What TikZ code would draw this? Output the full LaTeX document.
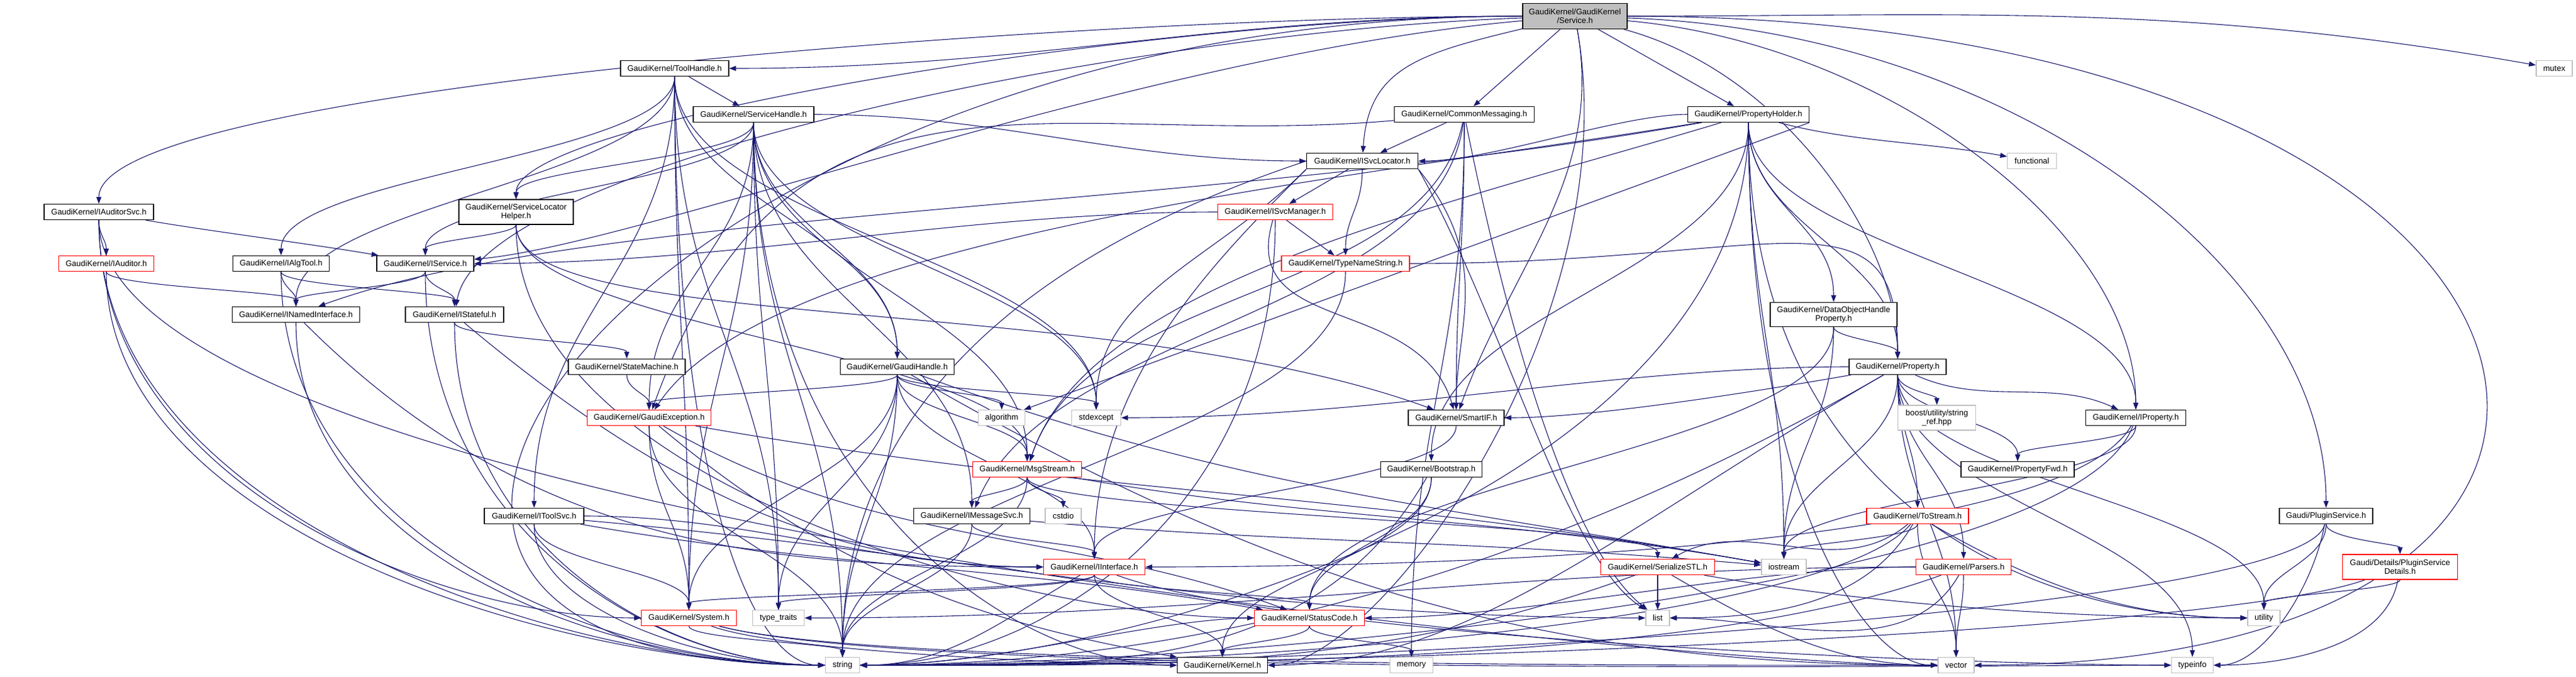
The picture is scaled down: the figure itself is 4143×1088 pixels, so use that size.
\documentclass[tikz,border=0pt]{standalone}
\usepackage{fontspec}
\setmainfont{Liberation Sans}
\usetikzlibrary{arrows.meta,calc}
\definecolor{edgec}{HTML}{191970}
\definecolor{extg}{HTML}{BFBFBF}
\definecolor{redc}{HTML}{FF0000}
\pgfdeclarelayer{edges}
\pgfsetlayers{edges,main}
\newcommand\edn[2]{\draw[conn] let \p1=(#1), \p2=(#2), \n1={0.45*abs(\y2-(\y1))} in (#1) .. controls +(0pt,{-\n1*1pt}) and +(0pt,{\n1*1pt}) .. (#2);}
\newcommand\eel[4]{\draw[conn] (#1) .. controls +(0,#3) and +(-#4,0) .. (#2);}
\newcommand\eer[4]{\draw[conn] (#1) .. controls +(0,#3) and +(#4,0) .. (#2);}
\newcommand\ecc[4]{\draw[conn] (#1) .. controls +(#3) and +(#4) .. (#2);}
\newcommand\est[2]{\draw[conn] (#1) -- (#2);}
\begin{document}
\begin{tikzpicture}[x=1pt,y=-1pt,font=\fontsize{13pt}{14pt}\selectfont,
 box/.style={draw=black,line width=1.3pt,rectangle,inner sep=0pt,minimum height=25pt,fill=white,align=center},
 ext/.style={box,draw=extg},
 redbox/.style={box,draw=redc},
 conn/.style={draw=edgec,line width=1.1pt,-{Triangle[length=11pt,width=8pt]}}]
\useasboundingbox (0,0) rectangle (4143,1088);
% ---------------- nodes
\node[box,fill=extg,minimum width=168pt,minimum height=41pt] (service) at (2533,26) {GaudiKernel/GaudiKernel\\/Service.h};
\node[box,minimum width=174pt] (toolh) at (1085,110) {GaudiKernel/ToolHandle.h};
\node[ext,minimum width=58pt] (mutex) at (4108,110) {mutex};
\node[box,minimum width=194pt] (svch) at (1212,184) {GaudiKernel/ServiceHandle.h};
\node[box,minimum width=225pt] (cmsg) at (2355,184) {GaudiKernel/CommonMessaging.h};
\node[box,minimum width=195pt] (pholder) at (2812,184) {GaudiKernel/PropertyHolder.h};
\node[box,minimum width=179pt] (isvcloc) at (2191,259) {GaudiKernel/ISvcLocator.h};
\node[ext,minimum width=79pt] (functional) at (3268,259) {functional};
\node[box,minimum width=176pt] (iaudsvc) at (159,341) {GaudiKernel/IAuditorSvc.h};
\node[box,minimum width=184pt,minimum height=40pt] (slh) at (830,341) {GaudiKernel/ServiceLocator\\Helper.h};
\node[redbox,minimum width=185pt] (isvcmgr) at (2051,341) {GaudiKernel/ISvcManager.h};
\node[redbox,minimum width=153pt] (iaud) at (171,424) {GaudiKernel/IAuditor.h};
\node[box,minimum width=155pt] (ialgtool) at (452,424) {GaudiKernel/IAlgTool.h};
\node[box,minimum width=156pt] (iservice) at (684,424) {GaudiKernel/IService.h};
\node[redbox,minimum width=206pt] (tns) at (2164,424) {GaudiKernel/TypeNameString.h};
\node[box,minimum width=205pt] (inamed) at (476,506) {GaudiKernel/INamedInterface.h};
\node[box,minimum width=158pt] (istate) at (731,506) {GaudiKernel/IStateful.h};
\node[box,minimum width=204pt,minimum height=39pt] (dohp) at (2949,506) {GaudiKernel/DataObjectHandle\\Property.h};
\node[box,minimum width=188pt] (smach) at (1008,590) {GaudiKernel/StateMachine.h};
\node[box,minimum width=183pt] (ghandle) at (1443,590) {GaudiKernel/GaudiHandle.h};
\node[box,minimum width=156pt] (prop) at (3052,590) {GaudiKernel/Property.h};
\node[redbox,minimum width=199pt] (gexc) at (1044,672) {GaudiKernel/GaudiException.h};
\node[ext,minimum width=75pt] (algo) at (1611,672) {algorithm};
\node[ext,minimum width=79pt] (stdexc) at (1763,672) {stdexcept};
\node[box,minimum width=154pt] (smartif) at (2342,672) {GaudiKernel/SmartIF.h};
\node[ext,minimum width=125pt,minimum height=40pt] (boost) at (3115,672) {boost/utility/string\\\_ref.hpp};
\node[box,minimum width=161pt] (iprop) at (3435,672) {GaudiKernel/IProperty.h};
\node[redbox,minimum width=175pt] (msgs) at (1652,755) {GaudiKernel/MsgStream.h};
\node[box,minimum width=163pt] (boot) at (2302,755) {GaudiKernel/Bootstrap.h};
\node[box,minimum width=182pt] (pfwd) at (3245,755) {GaudiKernel/PropertyFwd.h};
\node[box,minimum width=160pt] (itoolsvc) at (859,830) {GaudiKernel/IToolSvc.h};
\node[box,minimum width=187pt] (imsgsvc) at (1563,830) {GaudiKernel/IMessageSvc.h};
\node[ext,minimum width=58pt] (cstdio) at (1710,830) {cstdio};
\node[redbox,minimum width=164pt] (tostream) at (3084,830) {GaudiKernel/ToStream.h};
\node[box,minimum width=150pt] (plugin) at (3741,830) {Gaudi/PluginService.h};
\node[redbox,minimum width=163pt] (iintf) at (1760,912) {GaudiKernel/IInterface.h};
\node[redbox,minimum width=183pt] (sstl) at (2666,912) {GaudiKernel/SerializeSTL.h};
\node[ext,minimum width=72pt] (iostream) at (2869,912) {iostream};
\node[redbox,minimum width=153pt] (parsers) at (3158,912) {GaudiKernel/Parsers.h};
\node[redbox,minimum width=185pt,minimum height=40pt] (psd) at (3860,912) {Gaudi/Details/PluginService\\Details.h};
\node[redbox,minimum width=153pt] (system) at (1108,994) {GaudiKernel/System.h};
\node[ext,minimum width=83pt] (ttraits) at (1252,994) {type\_traits};
\node[redbox,minimum width=177pt] (scode) at (2106,994) {GaudiKernel/StatusCode.h};
\node[ext,minimum width=38pt] (list) at (2666,994) {list};
\node[ext,minimum width=52pt] (utility) at (3641,994) {utility};
\node[ext,minimum width=55pt] (string) at (1355,1070) {string};
\node[box,minimum width=145pt] (kernel) at (1966,1070) {GaudiKernel/Kernel.h};
\node[ext,minimum width=69pt] (memory) at (2270,1070) {memory};
\node[ext,minimum width=58pt] (vector) at (3146,1070) {vector};
\node[ext,minimum width=67pt] (typeinfo) at (3526,1070) {typeinfo};
% ---------------- edges
\begin{pgfonlayer}{edges}
\fill[white] (0,0) rectangle (4143,1088);
% Service
\ecc{service}{toolh}{-570,0}{570,0}
\ecc{service}{iaudsvc}{-800,0}{0,-200}
\ecc{service}{slh}{-650,0}{0,-150}
\ecc{service}{iservice}{-697,61}{349,-31}
\ecc{service}{istate}{-700,24}{43,-246}
\est{service}{cmsg}
\ecc{service}{isvcloc}{-250,60}{10,-150}
\est{service}{pholder}
\ecc{service}{smartif}{46,261}{91,-249}
\ecc{service}{prop}{338,91}{0,-200}
\ecc{service}{iprop}{498,44}{0,-300}
\ecc{service}{plugin}{700,24}{0,-400}
\ecc{service}{mutex}{615,0}{-606,-107}
\ecc{service}{kernel}{87,492}{250,0}
\ecc{service}{vector}{1700,0}{1300,0}
\ecc{service}{string}{-1500,0}{-1100,0}
% ToolHandle
\est{toolh}{svch}
\edn{toolh}{ialgtool}
\edn{toolh}{inamed}
\edn{toolh}{itoolsvc}
\edn{toolh}{ghandle}
\edn{toolh}{stdexc}
\edn{toolh}{system}
\edn{toolh}{ttraits}
\eel{toolh}{string}{650}{150}
% ServiceHandle
\ecc{svch}{isvcloc}{390,0}{-390,0}
\edn{svch}{iservice}
\edn{svch}{slh}
\edn{svch}{gexc}
\edn{svch}{ghandle}
\edn{svch}{msgs}
\edn{svch}{imsgsvc}
\edn{svch}{system}
\edn{svch}{stdexc}
\edn{svch}{ttraits}
\edn{svch}{string}
\eel{svch}{kernel}{600}{340}
% CommonMessaging
\est{cmsg}{isvcloc}
\ecc{cmsg}{gexc}{-667,58}{229,-630}
\edn{cmsg}{smartif}
\ecc{cmsg}{msgs}{-60,300}{100,-300}
\ecc{cmsg}{imsgsvc}{-40,320}{120,-300}
\edn{cmsg}{memory}
\ecc{cmsg}{list}{60,300}{-150,-120}
% PropertyHolder
\ecc{pholder}{isvcloc}{-205,0}{205,0}
\ecc{pholder}{inamed}{-886,156}{470,-171}
\edn{pholder}{prop}
\edn{pholder}{iprop}
\edn{pholder}{dohp}
\ecc{pholder}{functional}{164,44}{-167,-30}
\est{pholder.south east}{algo}
\ecc{pholder}{gexc}{-600,100}{200,-300}
\edn{pholder}{boot}
\ecc{pholder}{msgs}{-500,150}{100,-300}
\edn{pholder}{iostream}
\eel{pholder}{utility}{600}{400}
\eel{pholder}{vector}{600}{150}
\eer{pholder}{string}{600}{450}
% ISvcLocator
\est{isvcloc}{isvcmgr}
\edn{isvcloc}{tns}
\ecc{isvcloc.south east}{smartif}{120,150}{0,-150}
\ecc{isvcloc.south west}{iintf}{-150,150}{0,-300}
\ecc{isvcloc.south east}{list}{140,250}{-150,-100}
\ecc{isvcloc.south west}{stdexc}{-150,150}{0,-200}
\ecc{isvcloc.west}{string}{-300,100}{0,-500}
% ISvcManager
\ecc{isvcmgr}{iservice}{-500,0}{500,0}
\est{isvcmgr}{tns}
\ecc{isvcmgr}{smartif}{-60,200}{-60,-200}
\eer{isvcmgr}{string}{490}{310}
% IAuditorSvc
\ecc{iaudsvc}{iservice}{172,30}{-172,-30}
\edn{iaudsvc}{iaud}
\eel{iaudsvc}{string}{490}{450}
\eel{iaudsvc}{vector}{490}{450}
\eel{iaudsvc}{system}{440}{400}
% ServiceLocatorHelper
\edn{slh}{iservice}
\edn{slh}{msgs}
\ecc{slh}{smartif}{0,200}{-564,-205}
\eel{slh}{scode}{440}{450}
% IAuditor, IAlgTool, IService
\edn{iaud}{inamed}
\eel{iaud}{string}{430}{450}
\edn{ialgtool}{inamed}
\edn{ialgtool}{istate}
\eel{ialgtool}{string}{430}{400}
\edn{iservice}{inamed}
\edn{iservice}{istate}
\eel{iservice}{string}{430}{300}
% INamedInterface, IStateful, StateMachine
\ecc{inamed}{iintf}{375,375}{-530,0}
\eel{inamed}{string}{375}{395}
\ecc{istate}{iintf}{329,276}{-430,0}
\edn{istate}{smach}
\eel{istate}{string}{375}{280}
\edn{smach}{gexc}
% GaudiException
\edn{gexc}{system}
\ecc{gexc}{scode}{368,212}{-399,-145}
\edn{gexc}{string}
\ecc{gexc}{iostream}{709,125}{-709,-125}
\ecc{gexc}{kernel}{299,251}{-384,-68}
% GaudiHandle
\edn{ghandle}{gexc}
\edn{ghandle}{msgs}
\edn{ghandle}{algo}
\edn{ghandle}{stdexc}
\edn{ghandle}{system}
\edn{ghandle}{ttraits}
\edn{ghandle}{string}
\edn{ghandle}{iintf}
\ecc{ghandle}{vector}{589,340}{-680,0}
\ecc{ghandle}{iostream}{536,195}{-561,-99}
% DataObjectHandleProperty
\edn{dohp}{prop}
\edn{dohp}{scode}
\edn{dohp}{iostream}
% Property
\ecc{prop}{stdexc}{-460,0}{460,0}
\ecc{prop}{smartif}{-217,38}{220,0}
\edn{prop}{boost}
\ecc{prop}{iprop}{136,63}{-136,-63}
\edn{prop}{pfwd}
\edn{prop}{tostream}
\edn{prop}{parsers}
\edn{prop}{iostream}
\ecc{prop}{kernel}{-433,250}{400,0}
\ecc{prop}{string}{-433,250}{700,0}
\edn{prop}{vector}
\edn{prop}{typeinfo}
\edn{prop}{utility}
% TypeNameString
\ecc{tns}{prop}{700,0}{0,-300}
\edn{tns}{string}
% IProperty
\edn{iprop}{pfwd}
\ecc{iprop}{iintf}{-125,217}{500,0}
\edn{iprop}{iostream}
\ecc{iprop}{string}{-103,282}{600,0}
% SmartIF, MsgStream, Bootstrap
\edn{smartif}{iintf}
\edn{msgs}{imsgsvc}
\edn{msgs}{cstdio}
\edn{msgs}{string}
\ecc{msgs}{iostream}{473,83}{-473,-83}
\edn{msgs}{sstl}
\edn{boot}{scode}
\edn{boot}{kernel}
\ecc{boot}{string}{-195,338}{390,0}
% IToolSvc, IMessageSvc
\ecc{itoolsvc}{iintf}{350,0}{-350,0}
\ecc{itoolsvc}{scode}{483,85}{-483,-85}
\edn{itoolsvc}{system}
\eel{itoolsvc}{string}{150}{220}
\ecc{itoolsvc}{list}{667,58}{-670,0}
\edn{imsgsvc}{iintf}
\edn{imsgsvc}{string}
\ecc{imsgsvc}{iostream}{508,44}{-508,-44}
% ToStream
\ecc{tostream}{sstl}{-130,109}{147,-85}
\edn{tostream}{iostream}
\ecc{tostream}{list}{-85,147}{170,0}
\ecc{tostream}{string}{-129,153}{800,0}
\edn{tostream}{vector}
\ecc{tostream}{utility}{190,110}{-220,0}
% PluginService
\edn{plugin}{psd}
\edn{plugin}{utility}
\ecc{plugin}{string}{-26,148}{900,0}
\ecc{plugin}{typeinfo}{-20,113}{115,0}
% IInterface
\edn{iintf}{system}
\edn{iintf}{ttraits}
\edn{iintf}{kernel}
\edn{iintf}{scode}
\ecc{iintf}{typeinfo}{324,118}{-345,0}
\ecc{iintf}{string}{-147,85}{170,0}
% SerializeSTL
\est{sstl}{list}
\ecc{sstl}{vector}{169,98}{-195,0}
\ecc{sstl}{utility}{330,58}{-335,0}
\ecc{sstl}{string}{-470,171}{500,0}
% Parsers
\ecc{parsers}{scode}{-350,0}{350,0}
\ecc{parsers}{list}{-92,160}{185,0}
\ecc{parsers}{string}{-376,137}{800,0}
\edn{parsers}{vector}
\ecc{parsers}{ttraits}{-700,0}{700,0}
% PluginService details
\edn{psd}{utility}
\ecc{psd}{string}{-282,103}{900,0}
\ecc{psd}{typeinfo}{-23,133}{135,0}
% System, StatusCode
\edn{system}{string}
\ecc{system}{kernel}{160,58}{-170,0}
\ecc{system}{typeinfo}{362,97}{-375,0}
\ecc{system}{vector}{304,82}{-315,0}
\edn{scode}{kernel}
\edn{scode}{memory}
\ecc{scode}{string}{-250,0}{250,0}
\end{pgfonlayer}
\end{tikzpicture}
\end{document}
